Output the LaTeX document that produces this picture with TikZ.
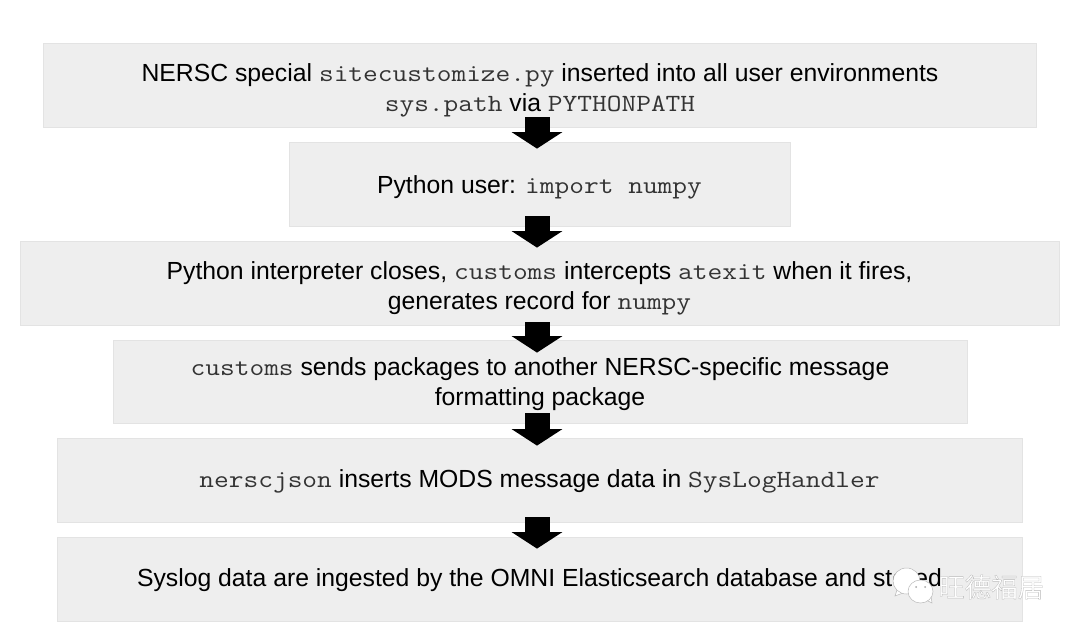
\documentclass[tikz,border=0pt]{standalone}
\usepackage{fontspec}
\setmainfont{Liberation Sans}
\setmonofont{Latin Modern Mono}[FakeStretch=1.155]
\newfontfamily\cjkwm{Noto Sans CJK SC}
\usetikzlibrary{arrows.meta,calc,shapes.geometric}
\definecolor{boxfill}{HTML}{EEEEEE}
\definecolor{boxline}{HTML}{E3E3E3}
\definecolor{monotext}{HTML}{333333}
\newcommand{\code}[1]{{\color{monotext}\ttfamily #1}}
% content lowered by #1 pt inside its box, box size being set by minimum size
\newcommand{\dropped}[2]{\raisebox{0pt}[\dimexpr\height+#1pt*2\relax]{\begin{tabular}{@{}c@{}}#2\end{tabular}}}
\tikzset{
  stage/.style={draw=boxline,fill=boxfill,line width=0.8pt,inner sep=0pt,text=black,
    font=\fontsize{24.75}{30}\selectfont},
  flowarrow/.style={draw=black,line width=25pt,-{Triangle[length=16.5pt,width=50pt]}},
  bubble/.style={draw=gray!55,fill=white,line width=0.5pt,ellipse,inner sep=0pt},
  bubbletail/.style={draw=gray!55,fill=white,line width=0.5pt},
  eye/.style={circle,fill=gray!70,inner sep=0pt,minimum size=2pt},
  wmtext/.style={text=white,inner sep=0pt,font=\fontsize{26.5}{26.5}\cjkwm}
}
\begin{document}
\begin{tikzpicture}[x=1pt,y=-1pt]
\useasboundingbox (0,0) rectangle (1080,635);
\fill[white] (0,0) rectangle (1080,635);
\node[stage,minimum width=993.5pt,minimum height=84pt] (a) at (540,85)
  {\dropped{5}{NERSC special \code{sitecustomize.py} inserted into all user environments\\\code{sys.path} via \code{PYTHONPATH}}};
\node[stage,minimum width=501pt,minimum height=84pt] (b) at (539.5,184)
  {\dropped{3}{Python user: \code{import numpy}}};
\node[stage,minimum width=1039pt,minimum height=84pt] (c) at (539.5,283)
  {\dropped{5}{Python interpreter closes, \code{customs} intercepts \code{atexit} when it fires,\\generates record for \code{numpy}}};
\node[stage,minimum width=854pt,minimum height=83pt] (d) at (540,381.5)
  {\dropped{3}{\code{customs} sends packages to another NERSC-specific message\\formatting package}};
\node[stage,minimum width=965pt,minimum height=84pt] (e) at (539.5,480)
  {\dropped{1}{\code{nerscjson} inserts MODS message data in \code{SysLogHandler}}};
\node[stage,minimum width=965pt,minimum height=84pt] (f) at (539.5,579)
  {\dropped{1}{Syslog data are ingested by the OMNI Elasticsearch database and stored}};
\coordinate (axis) at (537,0);
\draw[flowarrow,shorten <=-10pt,shorten >=-7pt] (axis |- a.south) -- (axis |- b.north);
\draw[flowarrow,shorten <=-10pt,shorten >=-7pt] (axis |- b.south) -- (axis |- c.north);
\draw[flowarrow,shorten <=-3pt,shorten >=-13pt] (axis |- c.south) -- (axis |- d.north);
\draw[flowarrow,shorten <=-10pt,shorten >=-8pt] (axis |- d.south) -- (axis |- e.north);
\draw[flowarrow,shorten <=-5pt,shorten >=-12pt] (axis |- e.south) -- (axis |- f.north);
% watermark
\draw[bubbletail] (897,590) -- (895,596) -- (903,593);
\node[bubble,minimum width=27pt,minimum height=26pt] (wa) at (906.5,581) {};
\draw[bubbletail] (926,600) -- (932,603) -- (931,596);
\node[bubble,minimum width=25pt,minimum height=23pt] (wb) at (920.5,591.5) {};
\node[eye] (w1) at (916,587) {};
\node[eye] (w2) at (925,587) {};
\node[wmtext,anchor=west] (wt) at (938,587) {\special{pdf:code 2 Tr 0.3 w 0.72 G}旺德福居\special{pdf:code 0 Tr}};
\end{tikzpicture}
\end{document}
